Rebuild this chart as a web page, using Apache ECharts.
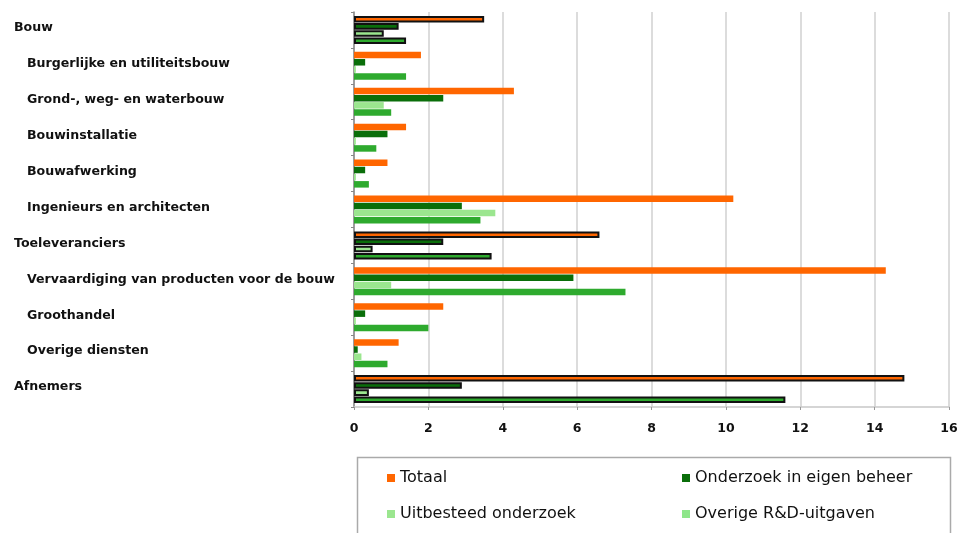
<!DOCTYPE html>
<html>
<head>
<meta charset="utf-8">
<script src="https://cdn.jsdelivr.net/npm/echarts@6/dist/echarts.min.js"></script>
<style>
  html, body { margin: 0; padding: 0; background: #fff; }
  #chart { width: 965px; height: 533px; }
</style>
</head>
<body>
<div id="chart"></div>
<script>
// Sectors, top to bottom; aggregate sectors are drawn with a black outline
const categories = [
  'Bouw',
  'Burgerlijke en utiliteitsbouw',
  'Grond-, weg- en waterbouw',
  'Bouwinstallatie',
  'Bouwafwerking',
  'Ingenieurs en architecten',
  'Toeleveranciers',
  'Vervaardiging van producten voor de bouw',
  'Groothandel',
  'Overige diensten',
  'Afnemers'
];
const aggregates = ['Bouw', 'Toeleveranciers', 'Afnemers'];

const seriesNames = ['Totaal', 'Onderzoek in eigen beheer', 'Uitbesteed onderzoek', 'Overige R&D-uitgaven'];
const totaal      = [3.5, 1.8, 4.3, 1.4, 0.9, 10.2, 6.6, 14.3, 2.4, 1.2, 14.8];
const eigenBeheer = [1.2, 0.3, 2.4, 0.9, 0.3, 2.9, 2.4, 5.9, 0.3, 0.1, 2.9];
const uitbesteed  = [0.8, 0.05, 0.8, 0.05, 0.05, 3.8, 0.5, 1.0, 0.05, 0.2, 0.4];
const overige     = [1.4, 1.4, 1.0, 0.6, 0.4, 3.4, 3.7, 7.3, 2.0, 0.9, 11.6];
const xTicks = [0, 2, 4, 6, 8, 10, 12, 14, 16];

const colors = ['#ff6600', '#0a6e0a', '#9be68f', '#2eaa2e'];
const legendColors = ['#ff6600', '#0a6e0a', '#9be68f', '#8ee68a'];

const chart = echarts.init(document.getElementById('chart'), null, { renderer: 'canvas' });

function buildData(values) {
  return values.map((v, i) => {
    if (aggregates.includes(categories[i])) {
      return { value: v, itemStyle: { borderColor: '#111', borderWidth: 2 } };
    }
    return v;
  });
}

const allValues = [totaal, eigenBeheer, uitbesteed, overige];
const series = seriesNames.map((name, k) => ({
  name: name,
  type: 'bar',
  data: buildData(allValues[k]),
  itemStyle: { color: colors[k] },
  barGap: '10%',
  barCategoryGap: '22%'
}));

const font = 'DejaVu Sans';
const legendText = { color: '#111', fontFamily: font, fontSize: 16 };

chart.setOption({
  animation: false,
  backgroundColor: '#fff',
  grid: { left: 354, top: 12, right: 16, bottom: 126 },
  xAxis: {
    type: 'value',
    min: xTicks[0],
    max: xTicks[xTicks.length - 1],
    interval: 2,
    axisLine: { show: true, lineStyle: { color: '#c8c8c8', width: 1.5 } },
    axisTick: { show: true, length: 3, lineStyle: { color: '#999' } },
    splitLine: { show: true, lineStyle: { color: '#d0d0d0', width: 1.5 } },
    axisLabel: { color: '#111', fontFamily: font, fontWeight: 'bold', fontSize: 12.5, margin: 15 }
  },
  yAxis: {
    type: 'category',
    inverse: true,
    data: categories,
    axisLine: { show: true, lineStyle: { color: '#888', width: 1.5 } },
    axisTick: { show: true, length: 3, lineStyle: { color: '#888' } },
    axisLabel: {
      align: 'left',
      margin: 340,
      formatter: v => aggregates.includes(v) ? '{a|' + v + '}' : '{b|' + v + '}',
      rich: {
        a: { color: '#111', fontFamily: font, fontWeight: 'bold', fontSize: 12.6, padding: [0, 0, 4, 0] },
        b: { color: '#111', fontFamily: font, fontWeight: 'bold', fontSize: 12.6, padding: [0, 0, 4, 13] }
      }
    }
  },
  legend: [
    {
      data: [
        { name: seriesNames[0], itemStyle: { color: legendColors[0] } },
        { name: seriesNames[2], itemStyle: { color: legendColors[2] } }
      ],
      orient: 'vertical',
      left: 382, top: 465,
      itemWidth: 8, itemHeight: 8, itemGap: 20,
      icon: 'rect',
      textStyle: legendText
    },
    {
      data: [
        { name: seriesNames[1], itemStyle: { color: legendColors[1] } },
        { name: seriesNames[3], itemStyle: { color: legendColors[3] } }
      ],
      orient: 'vertical',
      left: 677, top: 465,
      itemWidth: 8, itemHeight: 8, itemGap: 20,
      icon: 'rect',
      textStyle: legendText
    }
  ],
  graphic: [
    {
      type: 'rect',
      left: 355, top: 455,
      shape: { width: 593, height: 100 },
      style: { fill: 'none', stroke: '#aaa', lineWidth: 1.5 },
      silent: true
    }
  ],
  series: series
});
</script>
</body>
</html>
